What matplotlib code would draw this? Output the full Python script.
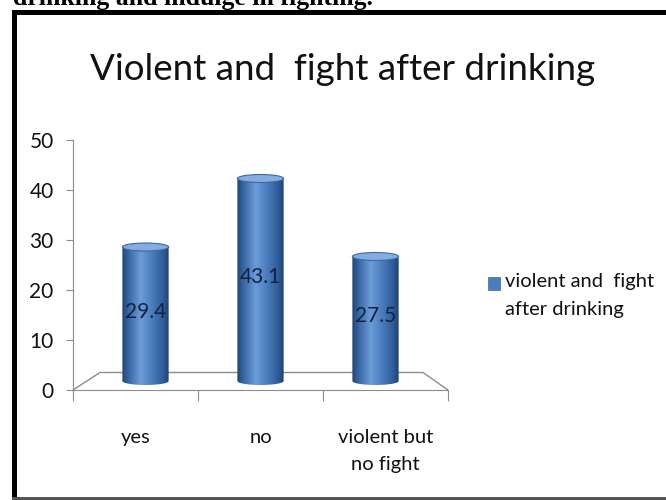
import matplotlib
matplotlib.use('Agg')
import matplotlib.pyplot as plt
import numpy as np
from matplotlib.colors import LinearSegmentedColormap
from matplotlib.patches import Ellipse, Rectangle, Polygon
from matplotlib.path import Path

#############################################
# violent / fight after drinking - cylinder bar chart
#############################################

categories = ['yes', 'no', 'violent but\nno fight']
values = [29.4, 43.1, 27.5]
series_name = 'violent and  fight\nafter drinking'
chart_title = 'Violent and  fight after drinking'
caption = 'drinking and indulge in fighting.'
yticks = [0, 10, 20, 30, 40, 50]

plt.rcParams['font.family'] = ['Lato', 'DejaVu Sans']

fig = plt.figure(figsize=(6.66, 5.0), dpi=100)
fig.patch.set_facecolor('white')

# caption line of the page, cut off at the top
fig.text(13/666, 1 - 5/500, caption, family='Liberation Serif', weight='bold',
         fontsize=18.5, va='baseline', ha='left', color='black')

# black frame round the chart
fig.add_artist(Rectangle((12/666, 0), 5/666, 1 - 10/500, transform=fig.transFigure,
                         facecolor='black', edgecolor='none'))
fig.add_artist(Rectangle((12/666, 1 - 15/500), 1, 5/500, transform=fig.transFigure,
                         facecolor='black', edgecolor='none'))
fig.add_artist(Rectangle((12/666, 0), 1, 3/500, transform=fig.transFigure,
                         facecolor='#555555', edgecolor='none'))

fig.text(343/666, 1 - 70/500, chart_title, fontsize=26.5, ha='center', va='center',
         color='#111111')

ax = fig.add_axes([73/666, 110/500, 375/666, 250/500])
ax.set_facecolor('none')

axis_col = '#8c8c8c'

# 3D floor outline
depth_x, depth_y = 0.216, 3.5
floor = Polygon([[-0.5, 0], [-0.5 + depth_x, depth_y], [2.5 - 0.2, depth_y], [2.5, 0]],
                closed=False, fill=False, edgecolor=axis_col, lw=1.0, clip_on=False, zorder=1)
ax.add_patch(floor)

cyl = LinearSegmentedColormap.from_list('cyl', [(0.0, '#1f4574'), (0.12, '#35629e'),
                                               (0.4, '#6c9cd8'), (0.6, '#4f82c4'),
                                               (0.88, '#2f5c98'), (1.0, '#1e426f')])
grad = np.linspace(0, 1, 200)[None, :]

width = 0.37
eh = 1.6        # ellipse height in data units
base = 1.8
xs = 1 + (np.arange(len(values)) - 1) * 0.92

for xc, v in zip(xs, values):
    x0, x1 = xc - width/2, xc + width/2
    top_c = v - eh/2
    t = np.linspace(np.pi, 2*np.pi, 60)
    bottom_arc = np.column_stack([xc + width/2*np.cos(t), base + eh/2*np.sin(t)])
    verts = np.vstack([[x0, top_c], bottom_arc, [x1, top_c], [x0, top_c]])
    body = Path(verts)
    im = ax.imshow(grad, extent=[x0, x1, base - eh/2, top_c], aspect='auto',
                   cmap=cyl, zorder=2, interpolation='bilinear')
    im.set_clip_path(body, transform=ax.transData)
    ax.add_patch(Ellipse((xc, top_c), width, eh, facecolor='#86acdf',
                         edgecolor='#3c68a3', lw=0.8, zorder=3))
    ax.text(xc, v/2 + 1, f'{v}', ha='center', va='center', fontsize=15,
            color='#13233d', zorder=4)

ax.set_xlim(-0.5, 2.5)
ax.set_ylim(0, 50)

for s in ['top', 'right']:
    ax.spines[s].set_visible(False)
for s in ['left', 'bottom']:
    ax.spines[s].set_color(axis_col)

ax.set_yticks(yticks)
ax.set_yticklabels([str(y) for y in yticks], fontsize=15, color='#111111')
ax.tick_params(axis='y', length=5, color=axis_col, pad=9)

ax.set_xticks([-0.5, 0.5, 1.5, 2.5])
ax.set_xticklabels([])
ax.tick_params(axis='x', which='major', length=8, color=axis_col, direction='out')
ax.set_xticks(np.arange(len(categories)), minor=True)
ax.set_xticklabels(categories, minor=True, fontsize=14.5, linespacing=1.75, color='#111111')
ax.tick_params(axis='x', which='minor', length=0, pad=28)

# legend drawn by hand
fig.add_artist(Rectangle((488/666, 1 - 290/500), 12/666, 13/500, transform=fig.transFigure,
                         facecolor='#4a7cc0', edgecolor='#3a66a3', lw=0.5))
fig.text(505/666, 1 - 273/500, series_name, fontsize=14.5, ha='left', va='top',
         linespacing=1.75, color='#111111')

fig.savefig('out.png', dpi=100)
